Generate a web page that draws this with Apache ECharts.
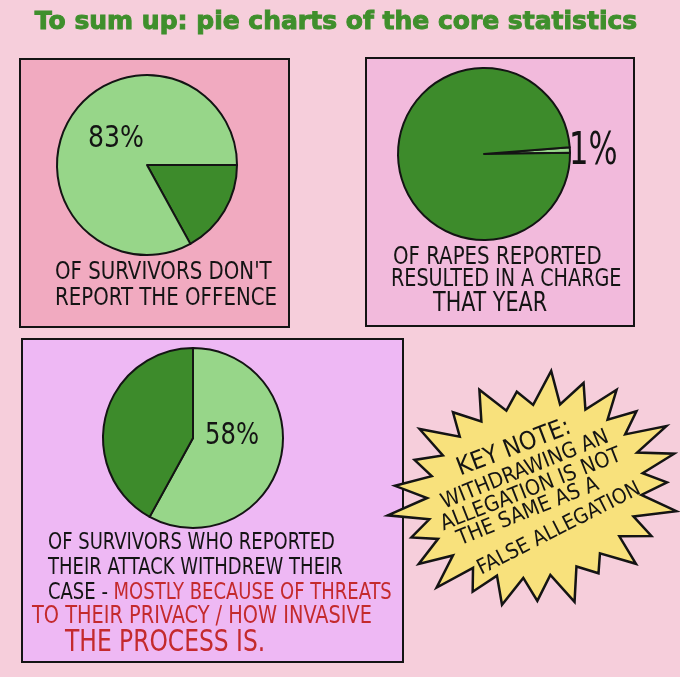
<!DOCTYPE html>
<html>
<head>
<meta charset="utf-8">
<script src="https://cdn.jsdelivr.net/npm/echarts@6/dist/echarts.min.js"></script>
<style>
html,body{margin:0;padding:0;background:#f6cedb;}
#c{width:680px;height:677px;}
</style>
</head>
<body>
<div id="c"></div>
<script>
// ---- data ----
const titleText = 'To sum up: pie charts of the core statistics';
const highlighted = [83, 1, 58];     // the stated percentage of each chart
const remainder = [17, 99, 42];      // the rest of each pie
const percentLabels = ['83%', '1%', '58%'];
const caption1 = ["OF SURVIVORS DON'T", 'REPORT THE OFFENCE'];
const caption2 = ['OF RAPES REPORTED', 'RESULTED IN A CHARGE', 'THAT YEAR'];
const caption3Black = ['OF SURVIVORS WHO REPORTED', 'THEIR ATTACK WITHDREW THEIR', 'CASE -'];
const caption3Red = ['MOSTLY BECAUSE OF THREATS', 'TO THEIR PRIVACY / HOW INVASIVE', 'THE PROCESS IS.'];
const keyNote = ['KEY NOTE:', 'WITHDRAWING AN', 'ALLEGATION IS NOT', 'THE SAME AS A', 'FALSE ALLEGATION'];

// ---- styles ----
const LIGHT = '#97d689', DARK = '#3d8b2b', INK = '#141414', RED = '#c42a2d';
const HAND = "'DejaVu Sans Condensed','Liberation Sans Narrow',sans-serif";

const chart = echarts.init(document.getElementById('c'), null, {renderer: 'canvas'});

function txt(x, y, text, size, opts) {
  opts = opts || {};
  const st = {
    text: text, x: 0, y: 0,
    font: (opts.weight || 'normal') + ' ' + size + 'px ' + (opts.family || HAND),
    fill: opts.fill || INK, align: opts.align || 'left', verticalAlign: 'middle'
  };
  if (opts.rich) st.rich = opts.rich;
  if (opts.stroke) { st.stroke = opts.stroke; st.lineWidth = opts.lineWidth; }
  return {
    type: 'text', x: x, y: y, rotation: opts.rot || 0, scaleY: opts.sy || 1, z: 20,
    style: st
  };
}

// starburst outline (decoration)
function burst(cx, cy, rx, ry, rotDeg, n) {
  const pts = [];
  const r = rotDeg * Math.PI / 180;
  const jitter = [1, 0.93, 1.04, 0.96, 1.02, 0.9, 1.05, 0.97, 1, 0.94, 1.03, 0.98, 0.92, 1.04];
  for (let i = 0; i < n * 2; i++) {
    const a = i / (n * 2) * Math.PI * 2;
    const k = i % 2 === 0 ? jitter[(i / 2) % jitter.length] : 0.76;
    const px = Math.cos(a) * rx * k, py = Math.sin(a) * ry * k;
    pts.push([cx + px * Math.cos(r) - py * Math.sin(r), cy + px * Math.sin(r) + py * Math.cos(r)]);
  }
  return pts;
}

const CS = 1.15; // tall handwritten letters
const graphics = [
  txt(336, 22, titleText, 25, {align: 'center', weight: 'bold', family: "'DejaVu Sans',sans-serif", fill: '#3f8f2c', stroke: '#3f8f2c', lineWidth: 1}),
  {type: 'rect', shape: {x: 20, y: 59, width: 269, height: 268}, style: {fill: '#f1aac0', stroke: INK, lineWidth: 2}, z: 0},
  {type: 'rect', shape: {x: 366, y: 58, width: 268, height: 268}, style: {fill: '#f2badc', stroke: INK, lineWidth: 2}, z: 0},
  {type: 'rect', shape: {x: 22, y: 339, width: 381, height: 323}, style: {fill: '#eeb8f4', stroke: INK, lineWidth: 2}, z: 0},
  {type: 'polygon', shape: {points: burst(535, 491, 144, 112, -15, 25)}, style: {fill: '#f8e17c', stroke: INK, lineWidth: 2.5}, z: 5},
  txt(88, 139, percentLabels[0], 28, {sy: 1.1}),
  txt(569, 153, percentLabels[1], 34, {sy: 1.3}),
  txt(205, 436, percentLabels[2], 27, {sy: 1.1}),
  txt(55, 272, caption1[0], 22, {sy: CS}),
  txt(55, 298, caption1[1], 22, {sy: CS}),
  txt(393, 257, caption2[0], 22, {sy: CS}),
  txt(391, 280, caption2[1], 21.3, {sy: CS}),
  txt(433, 304, caption2[2], 23, {sy: CS}),
  txt(48, 543, caption3Black[0], 20, {sy: CS}),
  txt(48, 568, caption3Black[1], 20, {sy: CS}),
  txt(48, 593, '{b|' + caption3Black[2] + '} {r|' + caption3Red[0] + '}', 20,
      {sy: CS, rich: {b: {fill: INK, font: '20px ' + HAND}, r: {fill: RED, font: '20px ' + HAND}}}),
  txt(32, 617, caption3Red[1], 21.5, {fill: RED, sy: CS}),
  txt(65, 643, caption3Red[2], 26, {fill: RED, sy: CS})
];
const kn = [[514, 448, 25, 21], [525, 470, 21.5, 22], [531, 490, 21.5, 21.5], [528, 512, 21.5, 22], [559, 529, 21, 27]];
keyNote.forEach(function (t, i) {
  graphics.push(txt(kn[i][0], kn[i][1], t, kn[i][2], {align: 'center', rot: kn[i][3] * Math.PI / 180}));
});

function pie(center, r, startAngle, data) {
  return {
    type: 'pie', center: center, radius: [0, r], startAngle: startAngle, clockwise: true,
    silent: true, animation: false, label: {show: false}, labelLine: {show: false},
    itemStyle: {borderColor: INK, borderWidth: 2}, z: 10, data: data
  };
}

chart.setOption({
  animation: false,
  graphic: graphics,
  series: [
    pie([147, 165], 90, 0, [
      {value: remainder[0], itemStyle: {color: DARK}},
      {value: highlighted[0], itemStyle: {color: LIGHT}}
    ]),
    pie([484, 154], 86, 4.5, [
      {value: highlighted[1], itemStyle: {color: LIGHT}},
      {value: remainder[1], itemStyle: {color: DARK}}
    ]),
    pie([193, 438], 90, 90, [
      {value: highlighted[2], itemStyle: {color: LIGHT}},
      {value: remainder[2], itemStyle: {color: DARK}}
    ])
  ]
});
</script>
</body>
</html>
